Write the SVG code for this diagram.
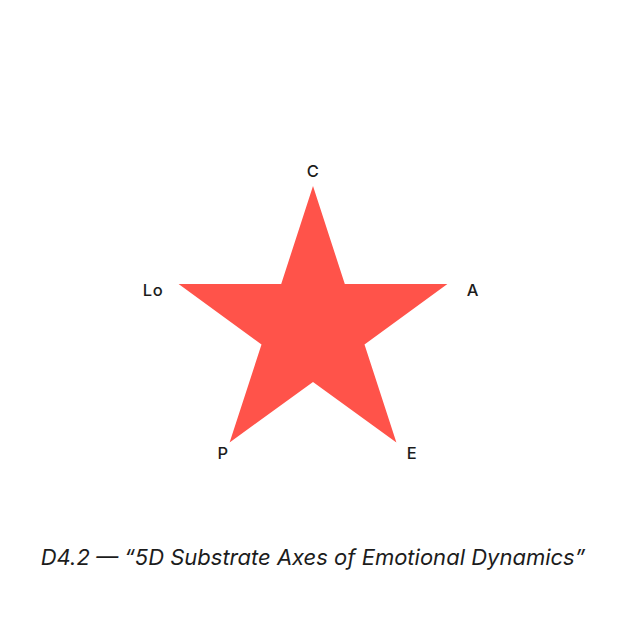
<svg xmlns="http://www.w3.org/2000/svg" width="627" height="627" viewBox="0 0 627 627">
<style>
.lbl{font-family:Inter,"Noto Sans",sans-serif;font-size:16.5px;font-weight:500;fill:#1c1c1c;text-anchor:middle;letter-spacing:0.6px}
.cap{font-family:Inter,"Noto Sans",sans-serif;font-size:22px;font-style:italic;fill:#1c1c1c;text-anchor:middle}
</style>
<rect width="627" height="627" fill="#ffffff"/>
<g id="star">
<polygon fill="#FF534A" points="313,186 344.8,284 447.4,284 364.5,344.5 396.4,442.5 313,382 229.6,442.5 261.5,344.5 178.6,284 281.2,284"/>
</g>
<g id="connectors"></g>
<g id="node-C"><text class="lbl" x="313" y="177">C</text></g>
<g id="node-Lo"><text class="lbl" x="153" y="296">Lo</text></g>
<g id="node-A"><text class="lbl" x="473" y="296">A</text></g>
<g id="node-P"><text class="lbl" x="223" y="459">P</text></g>
<g id="node-E"><text class="lbl" x="412" y="459">E</text></g>
<text class="cap" x="313" y="565">D4.2 — “5D Substrate Axes of Emotional Dynamics”</text>
</svg>
